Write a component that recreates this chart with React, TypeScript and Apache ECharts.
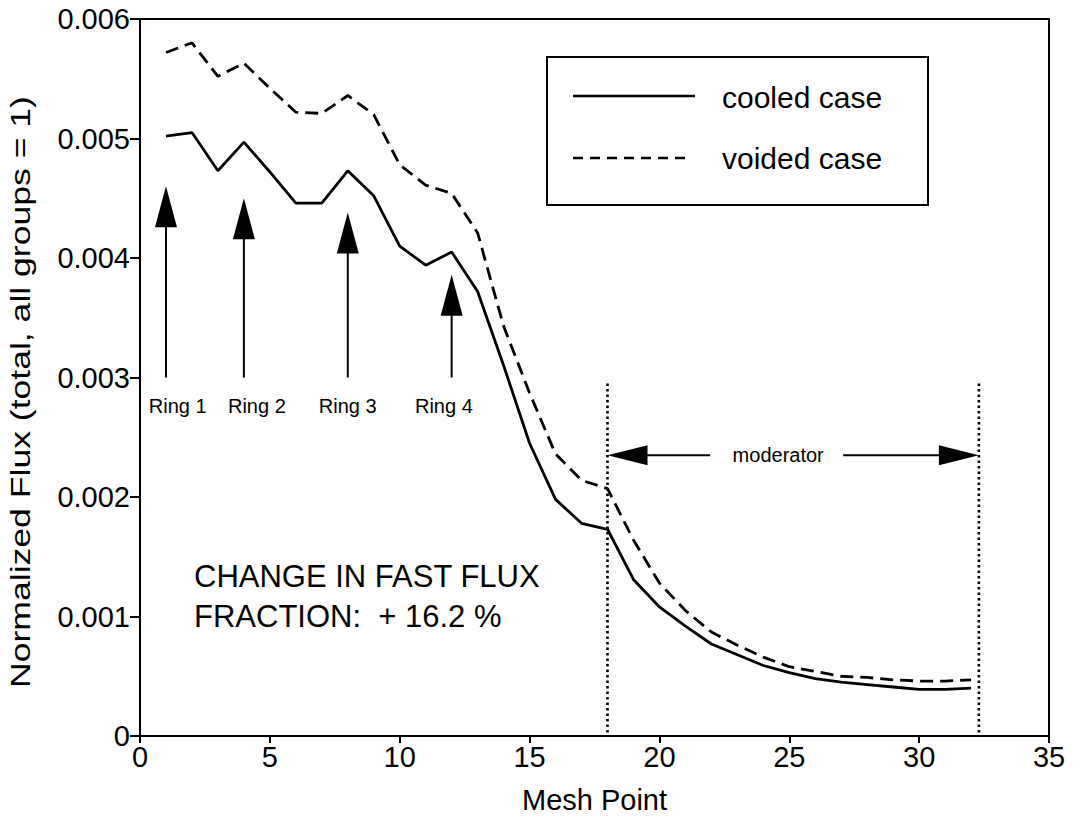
import React, { useEffect, useRef } from "react";
import * as echarts from "echarts";

const meshPoints = [1, 2, 3, 4, 5, 6, 7, 8, 9, 10, 11, 12, 13, 14, 15, 16, 17, 18, 19, 20, 21, 22, 23, 24, 25, 26, 27, 28, 29, 30, 31, 32];
const cooledCase = [0.00502, 0.00505, 0.00473, 0.00497, 0.00472, 0.00446, 0.00446, 0.00473, 0.00452, 0.0041, 0.00394, 0.00405, 0.00372, 0.0031, 0.00245, 0.00198, 0.00178, 0.00173, 0.00131, 0.00108, 0.00092, 0.00077, 0.00068, 0.00059, 0.00053, 0.00048, 0.00045, 0.00043, 0.00041, 0.00039, 0.00039, 0.0004];
const voidedCase = [0.00572, 0.0058, 0.00552, 0.00563, 0.00542, 0.00522, 0.00521, 0.00536, 0.0052, 0.00478, 0.00461, 0.00454, 0.00421, 0.00343, 0.00287, 0.00236, 0.00214, 0.00207, 0.00164, 0.00128, 0.00105, 0.00087, 0.00076, 0.00066, 0.00058, 0.00054, 0.0005, 0.00049, 0.00047, 0.00046, 0.00046, 0.00047];
const seriesNames = ["cooled case", "voided case"];

const ringNames = ["Ring 1", "Ring 2", "Ring 3", "Ring 4"];
const ringArrowX = [1, 4, 8, 12];
const ringArrowTip = [0.0046, 0.0045, 0.00438, 0.00386];
const ringArrowBottom = 0.003;
const ringLabelX = [1.45, 4.5, 8, 11.7];
const ringLabelY = 0.00276;

const moderatorStart = 18;
const moderatorEnd = 32.3;
const moderatorTop = 0.00295;
const moderatorArrowY = 0.00235;

const FONT = '"Liberation Sans", Arial, Helvetica, sans-serif';

export default function App() {
  const ref = useRef<HTMLDivElement>(null);
  useEffect(() => {
    if (!ref.current) return;
    const chart = echarts.init(ref.current, null, { renderer: "svg" });
    chart.setOption({
      animation: false,
      backgroundColor: "#fff",
      textStyle: { fontFamily: FONT, color: "#000" },
      grid: { left: 140, right: 32, top: 19, bottom: 84, show: true, borderColor: "#000", borderWidth: 2 },
      xAxis: {
        type: "value",
        min: 0,
        max: 35,
        interval: 5,
        name: "Mesh Point",
        nameLocation: "middle",
        nameGap: 49,
        nameTextStyle: { fontSize: 29, color: "#000", fontFamily: FONT },
        axisLine: { show: true, lineStyle: { color: "#000", width: 2 } },
        axisTick: { show: true, length: 7, lineStyle: { color: "#000", width: 2 } },
        axisLabel: { fontSize: 29, color: "#000", fontFamily: FONT, margin: 6 },
        splitLine: { show: false },
      },
      yAxis: {
        type: "value",
        min: 0,
        max: 0.006,
        interval: 0.001,
        axisLine: { show: true, lineStyle: { color: "#000", width: 2 } },
        axisTick: { show: true, length: 10, lineStyle: { color: "#000", width: 2 } },
        axisLabel: {
          fontSize: 29,
          color: "#000",
          fontFamily: FONT,
          margin: 10,
          formatter: (v: number) => (v === 0 ? "0" : v.toFixed(3)),
        },
        splitLine: { show: false },
      },
      series: [
        {
          name: seriesNames[0],
          type: "line",
          symbol: "none",
          showSymbol: false,
          data: meshPoints.map((x, i) => [x, cooledCase[i]]),
          lineStyle: { color: "#000", width: 2.8 },
          itemStyle: { color: "#000" },
        },
        {
          name: seriesNames[1],
          type: "line",
          symbol: "none",
          showSymbol: false,
          data: meshPoints.map((x, i) => [x, voidedCase[i]]),
          lineStyle: { color: "#000", width: 2.8, type: [13, 7] },
          itemStyle: { color: "#000" },
        },
      ],
    });

    const p = (x: number, y: number) => chart.convertToPixel({ gridIndex: 0 }, [x, y]) as number[];
    const graphic: any[] = [];
    const black = "#000";
    const txt = (text: string, x: number, y: number, size: number, align: string, extra: any = {}) => ({
      type: "text",
      x,
      y,
      ...extra,
      style: {
        text,
        fill: black,
        font: `${size}px ${FONT}`,
        align,
        verticalAlign: "middle",
        textAlign: align,
        textVerticalAlign: "middle",
      },
    });

    ringArrowX.forEach((rx, i) => {
      const tip = p(rx, ringArrowTip[i]);
      const bottom = p(rx, ringArrowBottom);
      const headLen = 41;
      const headHalf = 11;
      graphic.push({
        type: "line",
        shape: { x1: tip[0], y1: tip[1] + headLen - 2, x2: bottom[0], y2: bottom[1] },
        style: { stroke: black, lineWidth: 2 },
      });
      graphic.push({
        type: "polygon",
        shape: { points: [[tip[0], tip[1]], [tip[0] - headHalf, tip[1] + headLen], [tip[0] + headHalf, tip[1] + headLen]] },
        style: { fill: black },
      });
      const lp = p(ringLabelX[i], ringLabelY);
      graphic.push(txt(ringNames[i], lp[0], lp[1], 20, "center"));
    });

    [moderatorStart, moderatorEnd].forEach((mx) => {
      const a = p(mx, moderatorTop);
      const b = p(mx, 0);
      graphic.push({
        type: "line",
        shape: { x1: a[0], y1: a[1], x2: b[0], y2: b[1] },
        style: { stroke: black, lineWidth: 2.6, lineDash: [2.5, 3] },
      });
    });

    const L = p(moderatorStart, moderatorArrowY);
    const R = p(moderatorEnd, moderatorArrowY);
    const textCx = (L[0] + R[0]) / 2 - 15;
    const headL = 40;
    const headH = 10;
    graphic.push({
      type: "polygon",
      shape: { points: [[L[0], L[1]], [L[0] + headL, L[1] - headH], [L[0] + headL, L[1] + headH]] },
      style: { fill: black },
    });
    graphic.push({
      type: "line",
      shape: { x1: L[0] + headL - 2, y1: L[1], x2: textCx - 68, y2: L[1] },
      style: { stroke: black, lineWidth: 2 },
    });
    graphic.push({
      type: "polygon",
      shape: { points: [[R[0], R[1]], [R[0] - headL, R[1] - headH], [R[0] - headL, R[1] + headH]] },
      style: { fill: black },
    });
    graphic.push({
      type: "line",
      shape: { x1: textCx + 65, y1: R[1], x2: R[0] - headL + 2, y2: R[1] },
      style: { stroke: black, lineWidth: 2 },
    });
    graphic.push(txt("moderator", textCx, L[1], 20, "center"));

    // legend box
    graphic.push({
      type: "rect",
      shape: { x: 547, y: 57, width: 381, height: 148 },
      style: { fill: "#fff", stroke: black, lineWidth: 2 },
    });
    graphic.push({
      type: "line",
      shape: { x1: 573, y1: 96, x2: 695, y2: 96 },
      style: { stroke: black, lineWidth: 2.5 },
    });
    graphic.push({
      type: "line",
      shape: { x1: 573, y1: 158, x2: 692, y2: 158 },
      style: { stroke: black, lineWidth: 2.5, lineDash: [10, 7] },
    });
    graphic.push(txt(seriesNames[0], 722, 97, 30, "left"));
    graphic.push(txt(seriesNames[1], 722, 158, 30, "left"));

    // fast flux annotation
    graphic.push(txt("CHANGE IN FAST FLUX", 194, 576, 31, "left"));
    graphic.push(txt("FRACTION:  + 16.2 %", 194, 616, 31, "left"));

    // y axis title
    graphic.push(
      txt("Normalized Flux (total, all groups = 1)", 20, 392, 28, "center", {
        rotation: Math.PI / 2,
        scaleX: 1.27,
      })
    );

    chart.setOption({ graphic });

    return () => chart.dispose();
  }, []);

  return (
    <div
      ref={ref}
      style={{ position: "fixed", left: 0, top: 0, width: 1081, height: 820, background: "#fff" }}
    />
  );
}
